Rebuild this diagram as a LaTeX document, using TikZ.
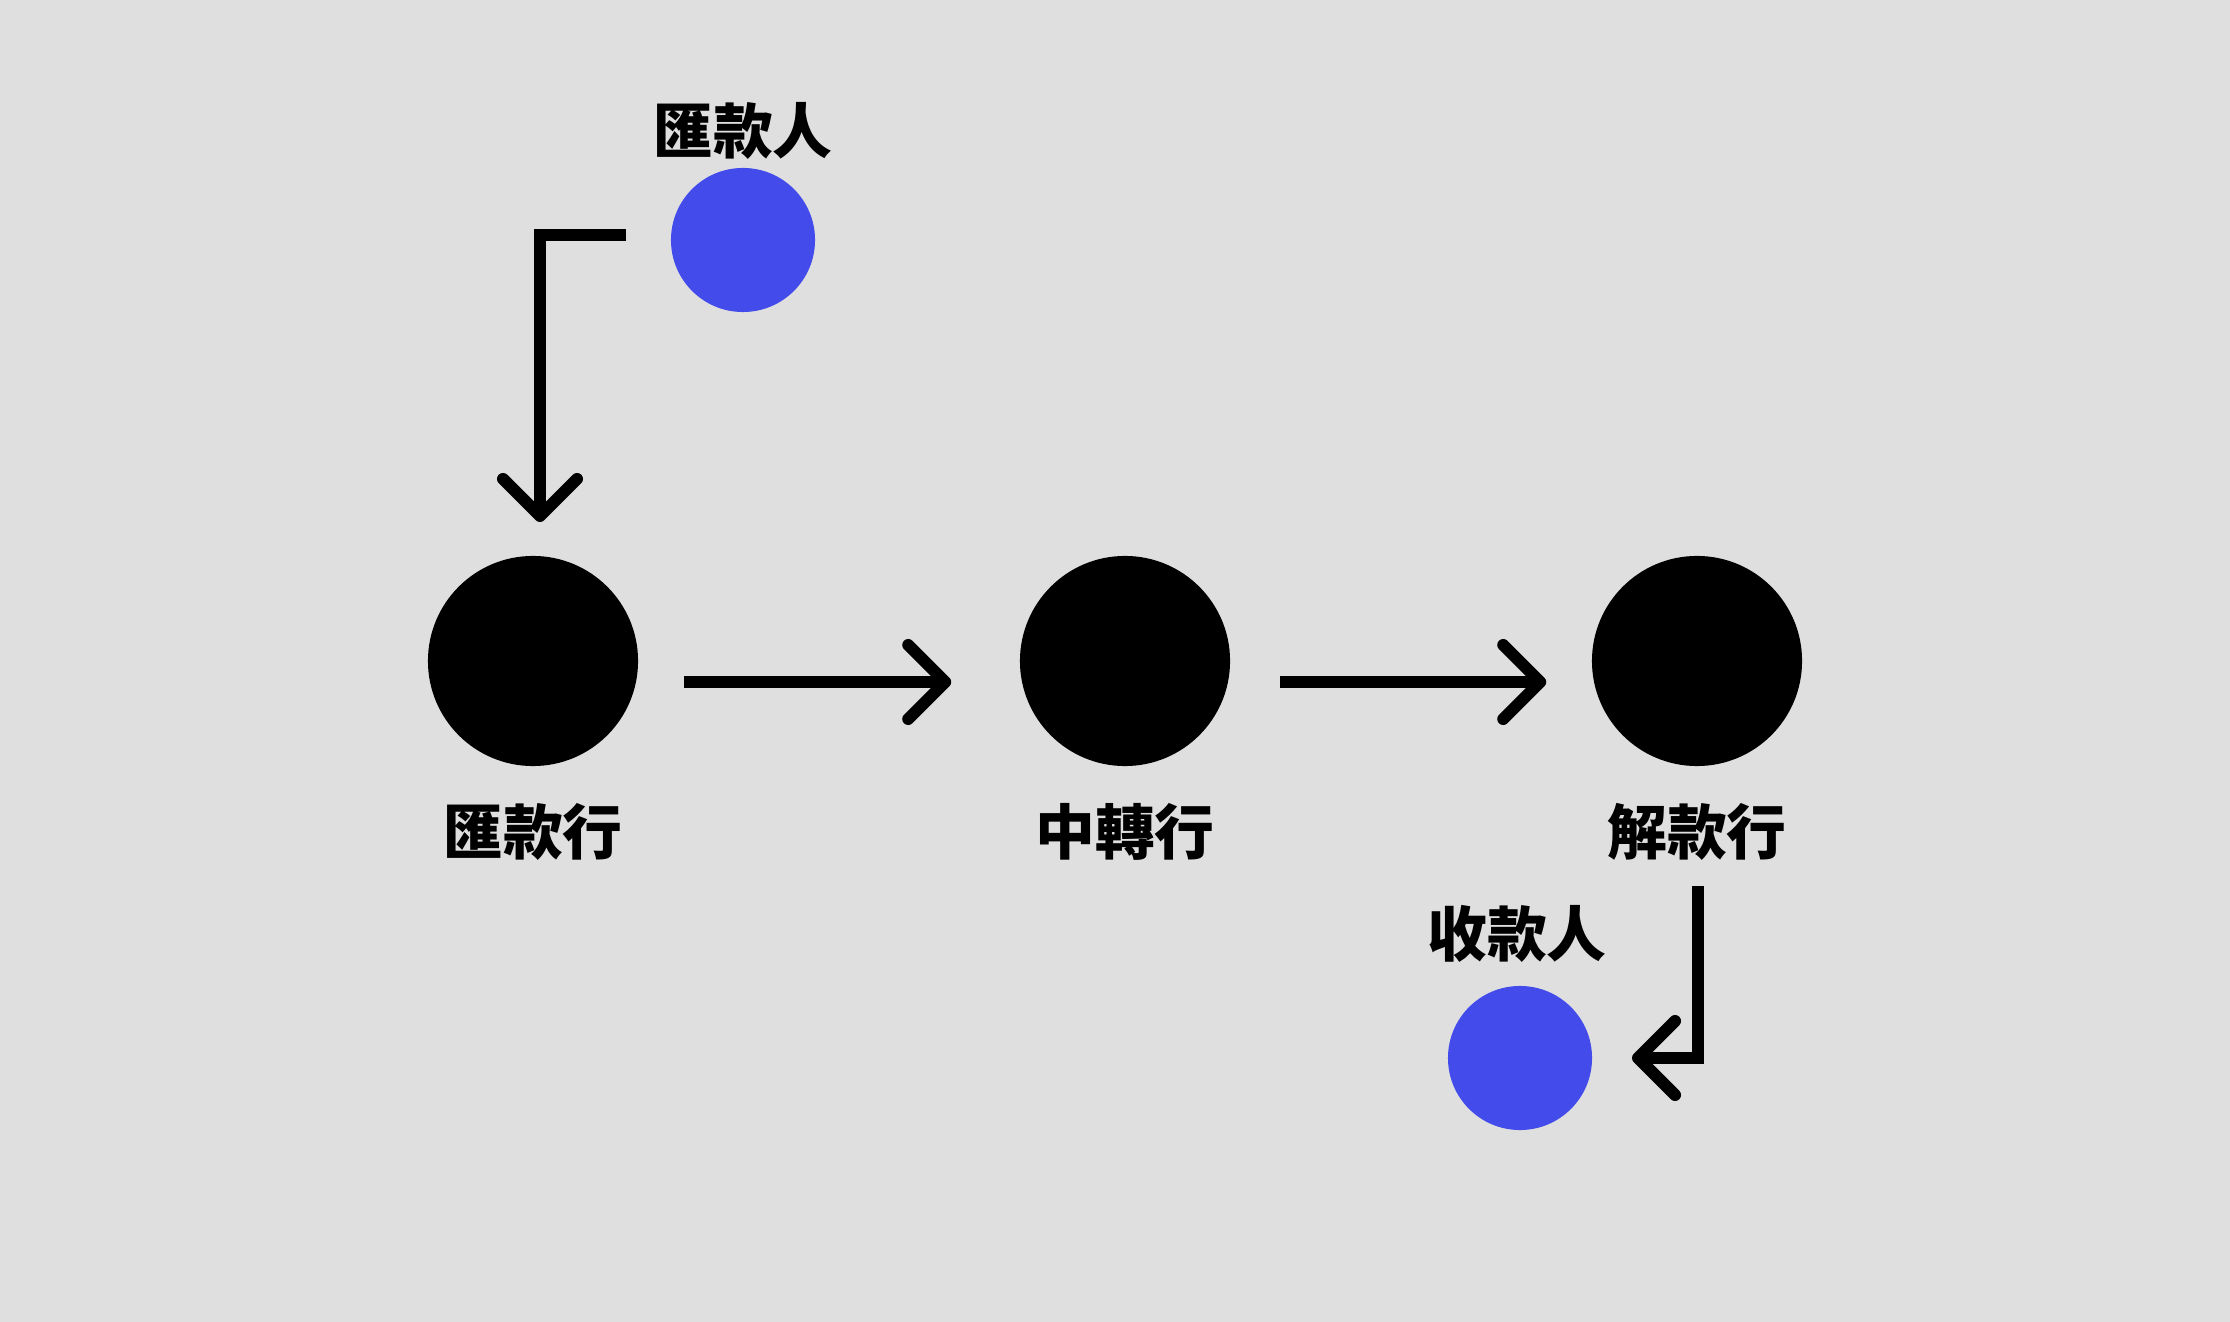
\documentclass[tikz,border=0pt]{standalone}
\usepackage{fontspec}
\newfontfamily\cjk{Noto Sans CJK TC}
\usetikzlibrary{arrows.meta}
\definecolor{bgcol}{HTML}{DFDFDF}
\definecolor{partyblue}{HTML}{434CEB}
\tikzstyle{bank} = [circle, fill=black, minimum size=2.1cm, inner sep=0pt]
\tikzstyle{party} = [circle, fill=partyblue, minimum size=1.44cm, inner sep=0pt]
\tikzstyle{lbl} = [font=\cjk\bfseries\fontsize{17}{20}\selectfont, inner sep=0pt]
\tikzstyle{flow} = [line width=0.12cm, -{Straight Barb[length=0.37cm, width=0.74cm, round]}]

\begin{document}
\begin{tikzpicture}[x=0.01cm, y=-0.01cm]
    \fill[bgcol] (0,0) rectangle (2230,1322);
    \useasboundingbox (0,0) rectangle (2230,1322);
    \node[party] (sender) at (743, 240) {};
    \node[lbl] (senderlbl) at (743, 131) {匯款人};
    \node[bank] (remit) at (533, 661) {};
    \node[bank] (relay) at (1125, 661) {};
    \node[bank] (pay) at (1697, 661) {};
    \node[lbl] (remitlbl) at (533, 832) {匯款行};
    \node[lbl] (relaylbl) at (1125, 832) {中轉行};
    \node[lbl] (paylbl) at (1697, 832) {解款行};
    \node[party] (receiver) at (1520, 1058) {};
    \node[lbl] (receiverlbl) at (1517, 934) {收款人};
    \coordinate (s1) at (626, 235);
    \coordinate (s2) at (540, 522);
    \coordinate (r1) at (1698, 886);
    \coordinate (r2) at (1632, 1058);
    \draw[flow] (s1) -| (s2);
    \draw[flow] ([shift={(45,21)}]remit.east) -- ([shift={(-68,21)}]relay.west);
    \draw[flow] ([shift={(49,21)}]relay.east) -- ([shift={(-45,21)}]pay.west);
    \draw[flow] (r1) |- (r2);
\end{tikzpicture}
\end{document}
